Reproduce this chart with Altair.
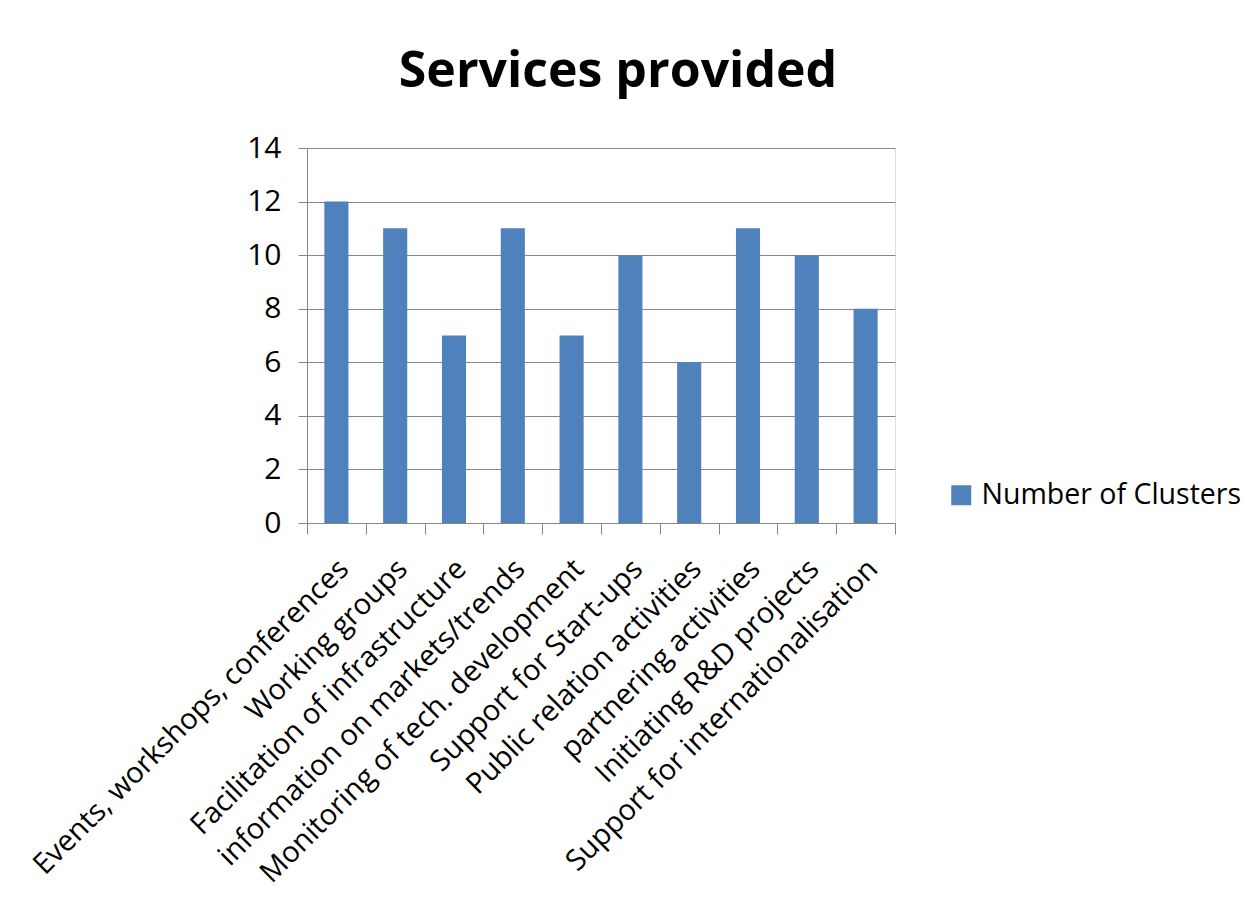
import altair as alt
import pandas as pd

categories = [
    "Events, workshops, conferences",
    "Working groups",
    "Facilitation of infrastructure",
    "information on markets/trends",
    "Monitoring of tech. development",
    "Support for Start-ups",
    "Public relation activities",
    "partnering activities",
    "Initiating R&D projects",
    "Support for internationalisation",
]
values = [12, 11, 7, 11, 7, 10, 6, 11, 10, 8]
series_name = "Number of Clusters"

df = pd.DataFrame({"service": categories, "count": values, "series": series_name})

FONT = "Open Sans"
BAR = "#4F81BD"
GRID = "#868686"

chart = (
    alt.Chart(df)
    .mark_bar(color=BAR, width=alt.RelativeBandSize(0.41))
    .encode(
        x=alt.X(
            "service:N",
            sort=categories,
            scale=alt.Scale(paddingInner=0, paddingOuter=0),
            axis=alt.Axis(
                title=None,
                labelAngle=-45,
                labelAlign="right",
                labelBaseline="top",
                labelFont=FONT,
                labelFontSize=29,
                labelColor="#000000",
                labelPadding=20,
                labelOffset=-3,
                tickBand="extent",
                tickSize=11,
                tickColor=GRID,
                domainColor=GRID,
                labelLimit=0,
                grid=False,
            ),
        ),
        y=alt.Y(
            "count:Q",
            scale=alt.Scale(domain=[0, 14], nice=False),
            axis=alt.Axis(
                title=None,
                values=[0, 2, 4, 6, 8, 10, 12, 14],
                labelFont=FONT,
                labelFontSize=30,
                labelColor="#000000",
                labelPadding=17,
                tickSize=9,
                tickColor=GRID,
                domainColor=GRID,
                gridColor=GRID,
                gridWidth=1,
            ),
        ),
        color=alt.Color(
            "series:N",
            scale=alt.Scale(range=[BAR]),
            legend=alt.Legend(
                title=None,
                orient="none",
                legendX=640,
                legendY=333,
                symbolType="square",
                symbolSize=400,
                symbolStrokeWidth=0,
                labelFont=FONT,
                labelFontSize=28.5,
                labelColor="#000000",
                labelOffset=6,
                labelLimit=0,
            ),
        ),
    )
    .properties(
        width=588,
        height=375,
        title=alt.Title(
            "Services provided",
            font=FONT,
            fontSize=50,
            fontWeight="bold",
            color="#000000",
            anchor="middle",
            dx=17,
            offset=36,
        ),
        autosize=alt.AutoSizeParams(type="none"),
        padding={"left": 299, "top": 140, "right": 350, "bottom": 380},
    )
    .configure_view(stroke=None)
    .configure(background="white")
)

chart.save("out.html", embed_options={"renderer": "svg", "actions": False})
